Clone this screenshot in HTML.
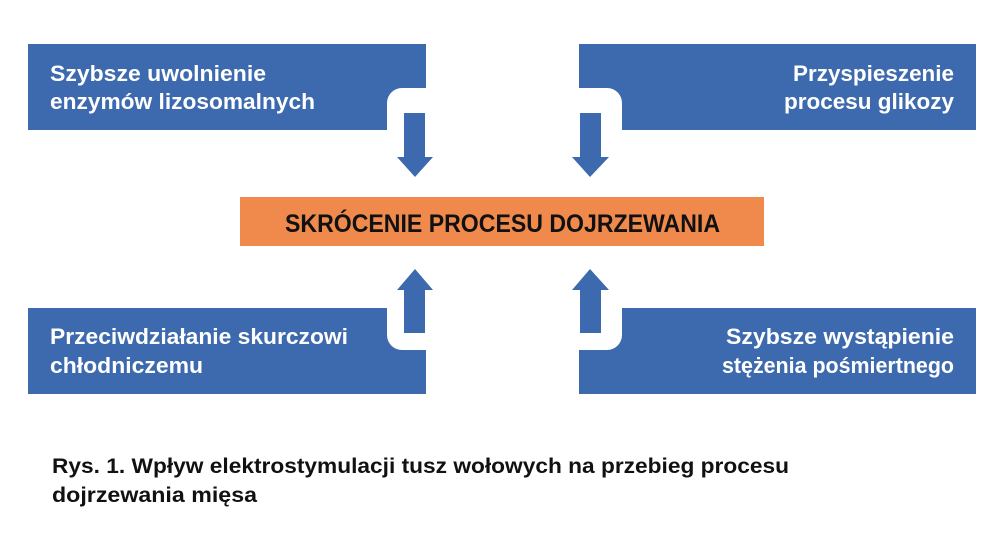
<!DOCTYPE html>
<html><head><meta charset="utf-8"><style>
html,body{margin:0;padding:0;background:#fff;}
svg{display:block;}
text{font-family:"Liberation Sans",sans-serif;font-weight:bold;}
</style></head><body>
<svg width="1000" height="539" viewBox="0 0 1000 539" xmlns="http://www.w3.org/2000/svg">
<rect width="1000" height="539" fill="#fff"/>
<g fill="#3d6aae">
<path d="M28,44 H426 V88 H402 A15,15 0 0 0 387,103 V130 H28 Z"/>
<path d="M579,44 H976 V130 H622 V103 A15,15 0 0 0 607,88 H579 Z"/>
<path d="M28,308 H387 V335 A15,15 0 0 0 402,350 H426 V394 H28 Z"/>
<path d="M622,308 H976 V394 H579 V350 H607 A15,15 0 0 0 622,335 Z"/>
<path d="M404,113 H425 V157 H433 L415,177 L397,157 H404 Z"/>
<path d="M580,113 H601 V157 H609 L590,177 L572,157 H580 Z"/>
<path d="M404,333 H425 V290 H433 L415,269 L397,290 H404 Z"/>
<path d="M580,333 H601 V290 H609 L590,269 L572,290 H580 Z"/>
</g>
<rect x="240" y="197" width="524" height="49" fill="#ef8a4c"/>
<text x="285" y="232" font-size="25" fill="#111" textLength="435" lengthAdjust="spacingAndGlyphs">SKRÓCENIE PROCESU DOJRZEWANIA</text>
<g fill="#fff" font-size="22">
<text x="50" y="81" textLength="216" lengthAdjust="spacingAndGlyphs">Szybsze uwolnienie</text>
<text x="50" y="109" textLength="265" lengthAdjust="spacingAndGlyphs">enzymów lizosomalnych</text>
<text x="954" y="81" text-anchor="end" textLength="161" lengthAdjust="spacingAndGlyphs">Przyspieszenie</text>
<text x="954" y="109" text-anchor="end" textLength="170" lengthAdjust="spacingAndGlyphs">procesu glikozy</text>
<text x="50" y="344" textLength="298" lengthAdjust="spacingAndGlyphs">Przeciwdziałanie skurczowi</text>
<text x="50" y="373" textLength="153" lengthAdjust="spacingAndGlyphs">chłodniczemu</text>
<text x="954" y="344" text-anchor="end" textLength="228" lengthAdjust="spacingAndGlyphs">Szybsze wystąpienie</text>
<text x="954" y="373" text-anchor="end" textLength="232" lengthAdjust="spacingAndGlyphs">stężenia pośmiertnego</text>
</g>
<g fill="#111" font-size="21">
<text x="52" y="473" textLength="737" lengthAdjust="spacingAndGlyphs">Rys. 1. Wpływ elektrostymulacji tusz wołowych na przebieg procesu</text>
<text x="52" y="502" textLength="205" lengthAdjust="spacingAndGlyphs">dojrzewania mięsa</text>
</g>
</svg>
</body></html>
